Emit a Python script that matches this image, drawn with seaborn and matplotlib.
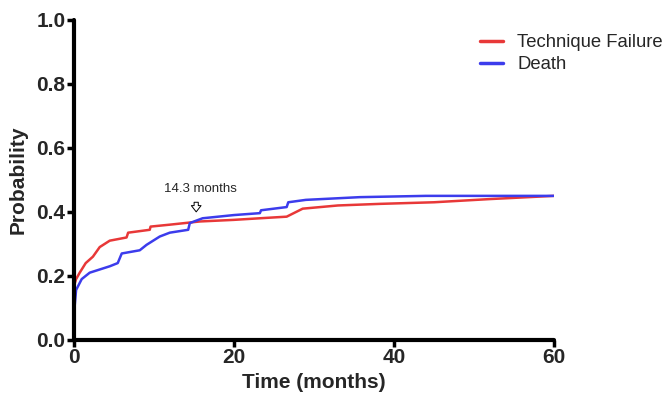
import pandas as pd
import matplotlib
matplotlib.use('Agg')
import matplotlib.pyplot as plt
import seaborn as sns

# --- Data ---
tf_time = [0, 0.05, 0.3, 0.75, 1.5, 2.4, 3.25, 4.5, 6.6, 6.8, 9.5, 9.6, 12, 15.75,
           20, 23.25, 26.6, 28.6, 33, 38.25, 45, 52, 60]
tf_prob = [0.11, 0.17, 0.19, 0.21, 0.24, 0.26, 0.29, 0.31, 0.32, 0.335, 0.344, 0.354,
           0.36, 0.37, 0.375, 0.38, 0.385, 0.41, 0.42, 0.425, 0.43, 0.44, 0.45]

death_time = [0, 0.1, 0.3, 1, 2, 4.5, 5.5, 6, 8.25, 9.1, 10.75, 12, 14.3, 14.5, 16.1,
              20, 23.25, 23.4, 26.6, 26.8, 29, 35.75, 44, 60]
death_prob = [0.04, 0.10, 0.156, 0.19, 0.21, 0.23, 0.24, 0.27, 0.28, 0.297, 0.323, 0.335,
              0.344, 0.365, 0.38, 0.39, 0.396, 0.405, 0.415, 0.43, 0.4375, 0.446, 0.45, 0.45]

series_names = ['Technique Failure', 'Death']
series_colors = {'Technique Failure': '#e83838', 'Death': '#3c3cec'}

x_ticks = [0, 20, 40, 60]
y_ticks = [0.0, 0.2, 0.4, 0.6, 0.8, 1.0]

crossing_label = '14.3 months'
arrow_time = 15.3
arrow_tip = 0.40
arrow_tail = 0.43
label_prob = 0.472

# --- Build long table ---
df = pd.concat([
    pd.DataFrame({'time': tf_time, 'prob': tf_prob, 'event': series_names[0]}),
    pd.DataFrame({'time': death_time, 'prob': death_prob, 'event': series_names[1]}),
], ignore_index=True)

# --- Plot ---
sns.set_theme(style='white')
plt.rcParams['font.family'] = ['Liberation Sans', 'DejaVu Sans']

fig = plt.figure(figsize=(6.7, 4.13), dpi=100)
ax = fig.add_axes([0.110, 0.177, 0.717, 0.775])

sns.lineplot(data=df, x='time', y='prob', hue='event', hue_order=series_names,
             palette=series_colors, estimator=None, linewidth=1.8, ax=ax)

ax.set_xlim(0, 60)
ax.set_ylim(0, 1.0)
ax.set_xticks(x_ticks)
ax.set_yticks(y_ticks)
ax.set_yticklabels([f'{v:.1f}' for v in y_ticks])

for side in ['top', 'right']:
    ax.spines[side].set_visible(False)
for side in ['left', 'bottom']:
    ax.spines[side].set_linewidth(3)
    ax.spines[side].set_color('black')
    ax.spines[side].set_capstyle('round')

ax.tick_params(axis='both', direction='out', length=5, width=2.5, color='black',
               labelsize=15, pad=1, bottom=True, left=True)
for lbl in ax.get_xticklabels() + ax.get_yticklabels():
    lbl.set_fontweight('bold')

ax.set_xlabel('Time (months)', fontsize=15, fontweight='bold', labelpad=4)
ax.set_ylabel('Probability', fontsize=15, fontweight='bold', labelpad=6)

# crossing annotation (hollow down arrow)
ax.annotate('', xy=(arrow_time, arrow_tip), xytext=(arrow_time, arrow_tail),
            arrowprops=dict(arrowstyle='simple,head_width=0.7,head_length=0.45,tail_width=0.3',
                            fc='white', ec='black', lw=0.7, shrinkA=0, shrinkB=0,
                            mutation_scale=10))
ax.text(arrow_time + 0.5, label_prob, crossing_label, ha='center', va='center',
        fontsize=9.5)

leg = ax.legend(loc='upper left', bbox_to_anchor=(0.846, 0.955), frameon=False,
                fontsize=13.3, handlelength=1.25, handletextpad=0.76, labelspacing=0.28,
                borderpad=0, borderaxespad=0)
for line in leg.get_lines():
    line.set_linewidth(2.5)

fig.savefig('out.png', dpi=100)
